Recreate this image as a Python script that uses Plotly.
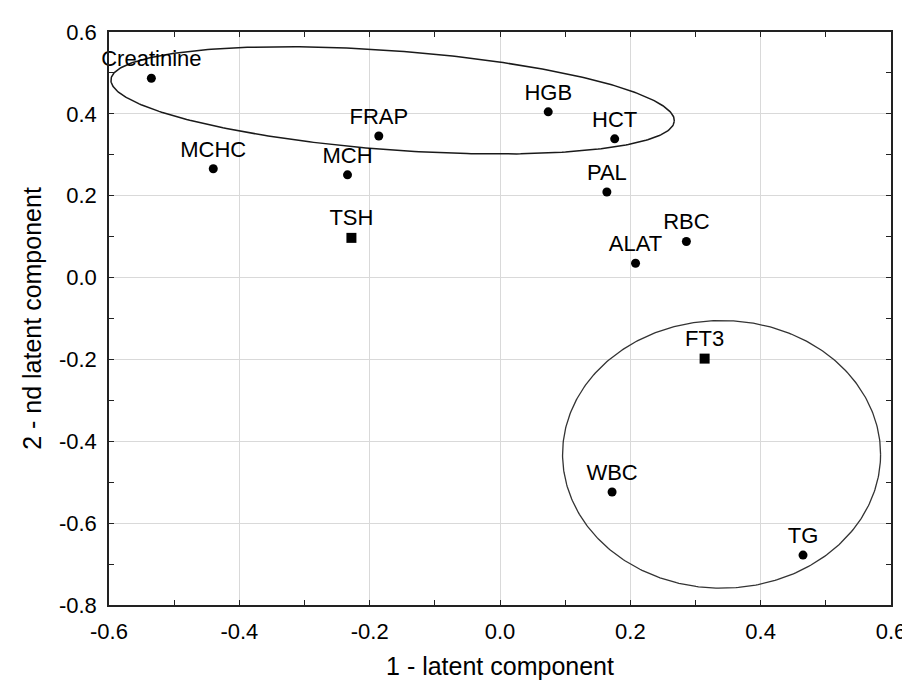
import numpy as np
import plotly.graph_objects as go

# --- data -------------------------------------------------------------
circle_labels = ["Creatinine", "MCHC", "MCH", "FRAP", "HGB", "HCT", "PAL",
                 "RBC", "ALAT", "WBC", "TG"]
circle_x = [-0.535, -0.440, -0.234, -0.186, 0.074, 0.176, 0.164,
            0.286, 0.208, 0.172, 0.465]
circle_y = [0.487, 0.266, 0.251, 0.346, 0.405, 0.339, 0.209,
            0.088, 0.035, -0.524, -0.678]

square_labels = ["TSH", "FT3"]
square_x = [-0.228, 0.314]
square_y = [0.097, -0.198]

x_ticks = [-0.6, -0.4, -0.2, 0.0, 0.2, 0.4, 0.6]
y_ticks = [-0.8, -0.6, -0.4, -0.2, 0.0, 0.2, 0.4, 0.6]

# grouping ellipses (annotation outlines)
ell1_left = (-0.597, 0.484)    # left tip (data units)
ell1_right = (0.2675, 0.382)   # right tip
ell1_minor_px = 50             # semi-minor axis in pixels
ell2_center = (0.340, -0.432)
ell2_rx, ell2_ry = 0.244, 0.327

# --- layout geometry --------------------------------------------------
W, H = 910, 680
L, R, T, B = 101, 15, 24, 78
pw, ph = W - L - R, H - T - B
xr, yr = (-0.6, 0.6), (-0.8, 0.6)
sx = pw / (xr[1] - xr[0])
sy = ph / (yr[1] - yr[0])

FONT = "Arial, Liberation Sans, sans-serif"

fig = go.Figure()

# rotated ellipse computed in pixel space so it looks right on screen
p1 = np.array([ell1_left[0] * sx, ell1_left[1] * sy])
p2 = np.array([ell1_right[0] * sx, ell1_right[1] * sy])
c = (p1 + p2) / 2
a = np.linalg.norm(p2 - p1) / 2
ang = np.arctan2(*(p2 - p1)[::-1])
t = np.linspace(0, 2 * np.pi, 400)
ex = a * np.cos(t)
ey = ell1_minor_px * np.sin(t)
rx_ = c[0] + ex * np.cos(ang) - ey * np.sin(ang)
ry_ = c[1] + ex * np.sin(ang) + ey * np.cos(ang)
fig.add_trace(go.Scatter(x=rx_ / sx, y=ry_ / sy, mode="lines",
                         line=dict(color="#1a1a1a", width=1.5),
                         hoverinfo="skip", showlegend=False))

t2 = np.linspace(0, 2 * np.pi, 400)
fig.add_trace(go.Scatter(x=ell2_center[0] + ell2_rx * np.cos(t2),
                         y=ell2_center[1] + ell2_ry * np.sin(t2),
                         mode="lines", line=dict(color="#333333", width=1.3),
                         hoverinfo="skip", showlegend=False))

fig.add_trace(go.Scatter(
    x=circle_x, y=circle_y, text=circle_labels, mode="markers+text",
    textposition="top center", cliponaxis=False,
    marker=dict(symbol="circle", size=9, color="black"),
    textfont=dict(family=FONT, size=22, color="black"),
    showlegend=False))

fig.add_trace(go.Scatter(
    x=square_x, y=square_y, text=square_labels, mode="markers+text",
    textposition="top center", cliponaxis=False,
    marker=dict(symbol="square", size=10, color="black"),
    textfont=dict(family=FONT, size=22, color="black"),
    showlegend=False))

axis_common = dict(
    showgrid=True, gridcolor="#d9d9d9", gridwidth=1,
    zeroline=False, showline=True, linecolor="#222222", linewidth=1.5,
    mirror="ticks", ticks="inside", ticklen=5, tickcolor="#222222",
    tickfont=dict(family=FONT, size=22, color="black"),
    ticklabeloverflow="allow",
    minor=dict(dtick=0.1, ticks="inside", ticklen=5, tickcolor="#222222",
               showgrid=False),
)

fig.update_layout(
    width=W, height=H,
    margin=dict(l=L, r=R, t=T, b=B),
    paper_bgcolor="white", plot_bgcolor="white",
    font=dict(family=FONT, color="black"),
    xaxis=dict(range=list(xr), tickvals=x_ticks,
               ticktext=[f"{v:.1f}" for v in x_ticks],
               ticklabelstandoff=6,
               title=dict(text="1 - latent component",
                          font=dict(family=FONT, size=25), standoff=14),
               **axis_common),
    yaxis=dict(range=list(yr), tickvals=y_ticks,
               ticktext=[f"{v:.1f}" for v in y_ticks],
               ticklabelstandoff=6,
               title=dict(text="2 - nd latent component",
                          font=dict(family=FONT, size=25), standoff=10),
               **axis_common),
)

fig.write_html("out.html")
